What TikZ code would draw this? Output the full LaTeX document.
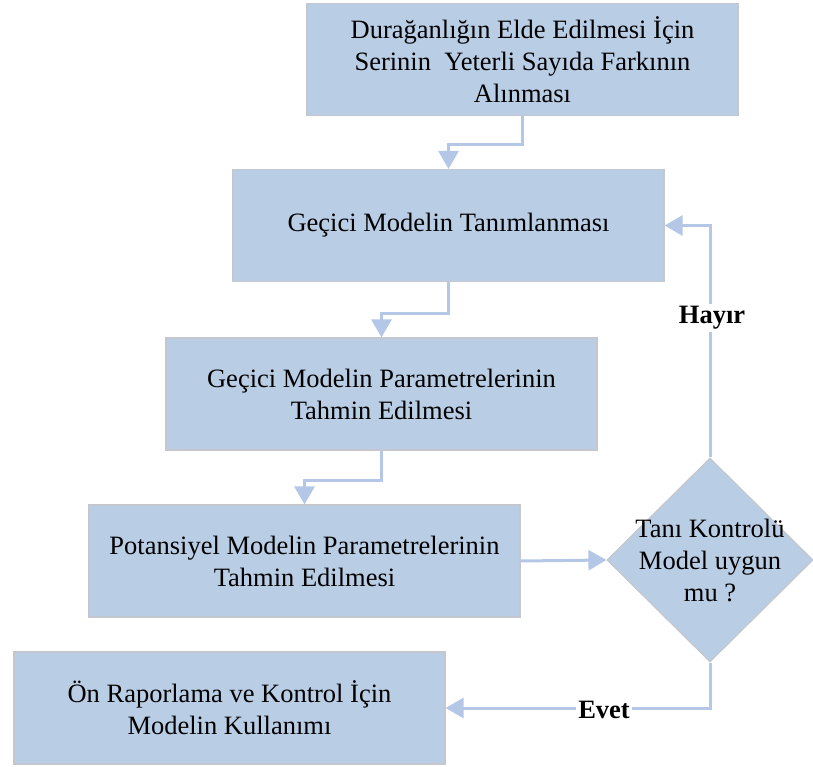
\documentclass[tikz,border=0pt]{standalone}
\usepackage{fontspec}
\setmainfont{Liberation Serif}
\usetikzlibrary{shapes.geometric,arrows.meta}
\definecolor{boxfill}{HTML}{B9CDE5}
\definecolor{boxline}{HTML}{C4C8CE}
\definecolor{conn}{HTML}{B4C7E7}
\tikzset{
  stepbox/.style={draw=boxline, line width=1.2pt, fill=boxfill, minimum width=431pt, minimum height=112pt, inner sep=0pt, align=center, font=\fontsize{26.5}{32}\selectfont},
  decbox/.style={draw=boxline, line width=1.2pt, fill=boxfill, diamond, minimum width=206pt, minimum height=204pt, inner sep=0pt},
  conline/.style={draw=conn, line width=3pt, -{Triangle[width=20pt,length=18pt]}},
  lbl/.style={fill=white, inner sep=2pt, font=\fontsize{26.5}{32}\selectfont\bfseries}
}
\begin{document}
\begin{tikzpicture}[x=1pt,y=-1pt]
\useasboundingbox (0,0) rectangle (813,767);
\node[stepbox] (b1) at (522.5,59.5) {Durağanlığın Elde Edilmesi İçin\\Serinin\ \ Yeterli Sayıda Farkının\\Alınması};
\node[stepbox] (b2) at (448.5,225.5) {Geçici Modelin Tanımlanması};
\node[stepbox] (b3) at (381.5,394) {Geçici Modelin Parametrelerinin\\Tahmin Edilmesi};
\node[stepbox] (b4) at (304.5,561) {Potansiyel Modelin Parametrelerinin\\Tahmin Edilmesi};
\node[stepbox] (b5) at (229.5,708) {Ön Raporlama ve Kontrol İçin\\Modelin Kullanımı};
\node[decbox] (d) at (710,560) {};
\node[align=center, font=\fontsize{26.5}{32}\selectfont] (dt) at (d.center) {Tanı Kontrolü\\Model uygun\\mu ?};
\draw[conline] (b1.south) |- (522.5,145) -| (b2.north);
\draw[conline] (b2.south) |- (448.5,313) -| (b3.north);
\draw[conline] (b3.south) |- (381.5,480) -| (b4.north);
\draw[conline] (b4.east) -- (d.west);
\draw[conline] (d.north) |- (b2.east);
\draw[conline] (d.south) |- (b5.east);
\node[lbl] (h) at (712,318) {Hayır};
\node[lbl] (e) at (604,710) {Evet};
\end{tikzpicture}
\end{document}
